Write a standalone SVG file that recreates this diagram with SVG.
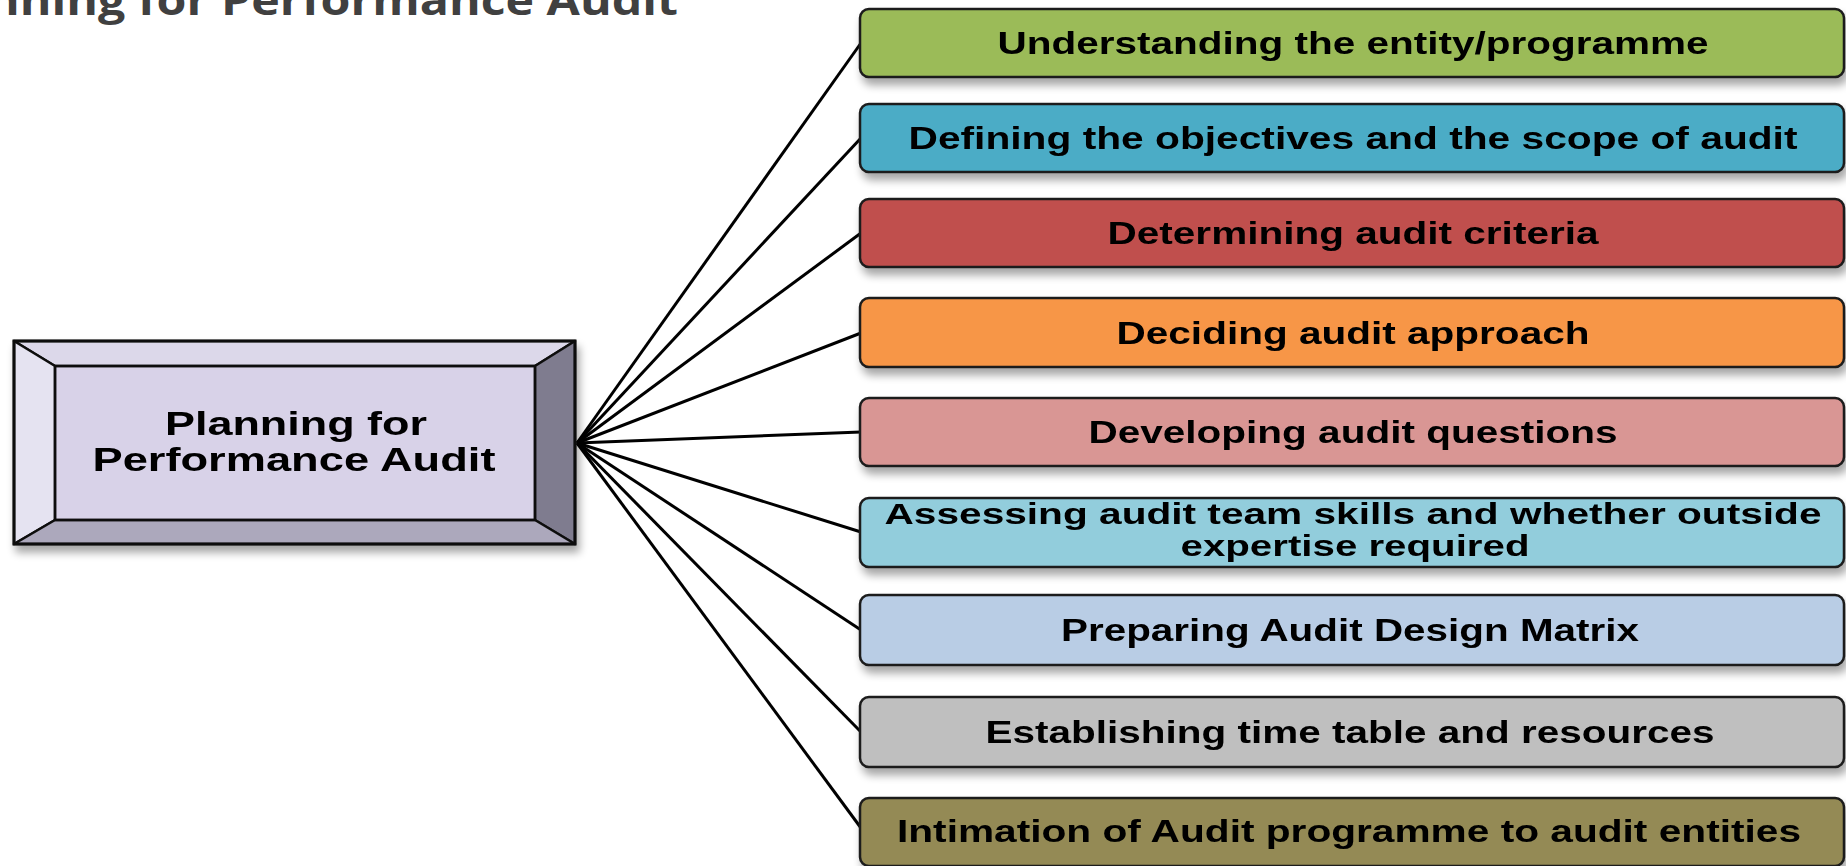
<svg xmlns="http://www.w3.org/2000/svg" width="1846" height="866" viewBox="0 0 1846 866">
<defs>
<filter id="sh" x="-5%" y="-20%" width="115%" height="160%">
<feGaussianBlur in="SourceAlpha" stdDeviation="4"/>
<feOffset dx="3" dy="7" result="b"/>
<feComponentTransfer><feFuncA type="linear" slope="0.35"/></feComponentTransfer>
<feMerge><feMergeNode/><feMergeNode in="SourceGraphic"/></feMerge>
</filter>
<style>
.box{stroke:#1a1a1a;stroke-width:2.5}
.lbl{font-family:"Liberation Sans",Arial,sans-serif;font-weight:bold;font-size:31px;fill:#000;text-anchor:middle}
.sm{font-size:29px}
.hub{font-family:"Liberation Sans",Arial,sans-serif;font-weight:bold;font-size:34px;fill:#000;text-anchor:middle}
.bev{stroke:#111;stroke-width:2.5;stroke-linejoin:round}
.con{stroke:#000;stroke-width:3;fill:none}
</style>
</defs>
<rect width="1846" height="866" fill="#ffffff"/>
<text id="title" x="-12" y="15" font-family="'Open Sans','Noto Sans',sans-serif" font-weight="bold" font-size="41" fill="#404040" textLength="690" lengthAdjust="spacingAndGlyphs">nning for Performance Audit</text>

<g id="connectors">
<line class="con" x1="577" y1="443" x2="861" y2="43"/>
<line class="con" x1="577" y1="443" x2="861" y2="138"/>
<line class="con" x1="577" y1="443" x2="861" y2="233"/>
<line class="con" x1="577" y1="443" x2="861" y2="333"/>
<line class="con" x1="577" y1="443" x2="861" y2="432"/>
<line class="con" x1="577" y1="443" x2="861" y2="532"/>
<line class="con" x1="577" y1="443" x2="861" y2="630"/>
<line class="con" x1="577" y1="443" x2="861" y2="732"/>
<line class="con" x1="577" y1="443" x2="861" y2="828"/>
</g>

<g id="hub" filter="url(#sh)">
<rect x="55" y="366" width="480" height="154" fill="#d8d2e8"/>
<polygon class="bev" points="14,341 575,341 535,366 55,366" fill="#dcd8ea"/>
<polygon class="bev" points="14,341 55,366 55,520 14,544" fill="#e5e3f1"/>
<polygon class="bev" points="575,341 575,544 535,520 535,366" fill="#7f7c8f"/>
<polygon class="bev" points="14,544 55,520 535,520 575,544" fill="#aca8bc"/>
<rect x="55" y="366" width="480" height="154" fill="none" stroke="#111" stroke-width="2.5"/>
<rect x="14" y="341" width="561" height="203" fill="none" stroke="#111" stroke-width="3"/>
<text class="hub" x="296" y="435" textLength="262" lengthAdjust="spacingAndGlyphs">Planning for</text>
<text class="hub" x="294" y="471" textLength="403" lengthAdjust="spacingAndGlyphs">Performance Audit</text>
</g>

<g id="n1" filter="url(#sh)">
<rect class="box" x="860" y="9" width="984" height="68" rx="9" fill="#9bbb59"/>
<text class="lbl" x="1353" y="54" textLength="711" lengthAdjust="spacingAndGlyphs">Understanding the entity/programme</text>
</g>
<g id="n2" filter="url(#sh)">
<rect class="box" x="860" y="104" width="984" height="68" rx="9" fill="#4bacc6"/>
<text class="lbl" x="1353" y="149" textLength="889" lengthAdjust="spacingAndGlyphs">Defining the objectives and the scope of audit</text>
</g>
<g id="n3" filter="url(#sh)">
<rect class="box" x="860" y="199" width="984" height="68" rx="9" fill="#c0504d"/>
<text class="lbl" x="1353" y="244" textLength="491" lengthAdjust="spacingAndGlyphs">Determining audit criteria</text>
</g>
<g id="n4" filter="url(#sh)">
<rect class="box" x="860" y="298" width="984" height="69" rx="9" fill="#f79646"/>
<text class="lbl" x="1353" y="344" textLength="473" lengthAdjust="spacingAndGlyphs">Deciding audit approach</text>
</g>
<g id="n5" filter="url(#sh)">
<rect class="box" x="860" y="398" width="984" height="68" rx="9" fill="#d99694"/>
<text class="lbl" x="1353" y="443" textLength="529" lengthAdjust="spacingAndGlyphs">Developing audit questions</text>
</g>
<g id="n6" filter="url(#sh)">
<rect class="box" x="860" y="498" width="984" height="69" rx="9" fill="#92cddc"/>
<text class="lbl sm" x="1353" y="524" textLength="937" lengthAdjust="spacingAndGlyphs">Assessing audit team skills and whether outside</text>
<text class="lbl sm" x="1355" y="556" textLength="349" lengthAdjust="spacingAndGlyphs">expertise required</text>
</g>
<g id="n7" filter="url(#sh)">
<rect class="box" x="860" y="595" width="984" height="70" rx="9" fill="#b9cde5"/>
<text class="lbl" x="1350" y="641" textLength="578" lengthAdjust="spacingAndGlyphs">Preparing Audit Design Matrix</text>
</g>
<g id="n8" filter="url(#sh)">
<rect class="box" x="860" y="697" width="984" height="70" rx="9" fill="#bfbfbf"/>
<text class="lbl" x="1350" y="743" textLength="729" lengthAdjust="spacingAndGlyphs">Establishing time table and resources</text>
</g>
<g id="n9" filter="url(#sh)">
<rect class="box" x="860" y="798" width="984" height="68" rx="9" fill="#948a54"/>
<text class="lbl" x="1349" y="842" textLength="904" lengthAdjust="spacingAndGlyphs">Intimation of Audit programme to audit entities</text>
</g>
</svg>
